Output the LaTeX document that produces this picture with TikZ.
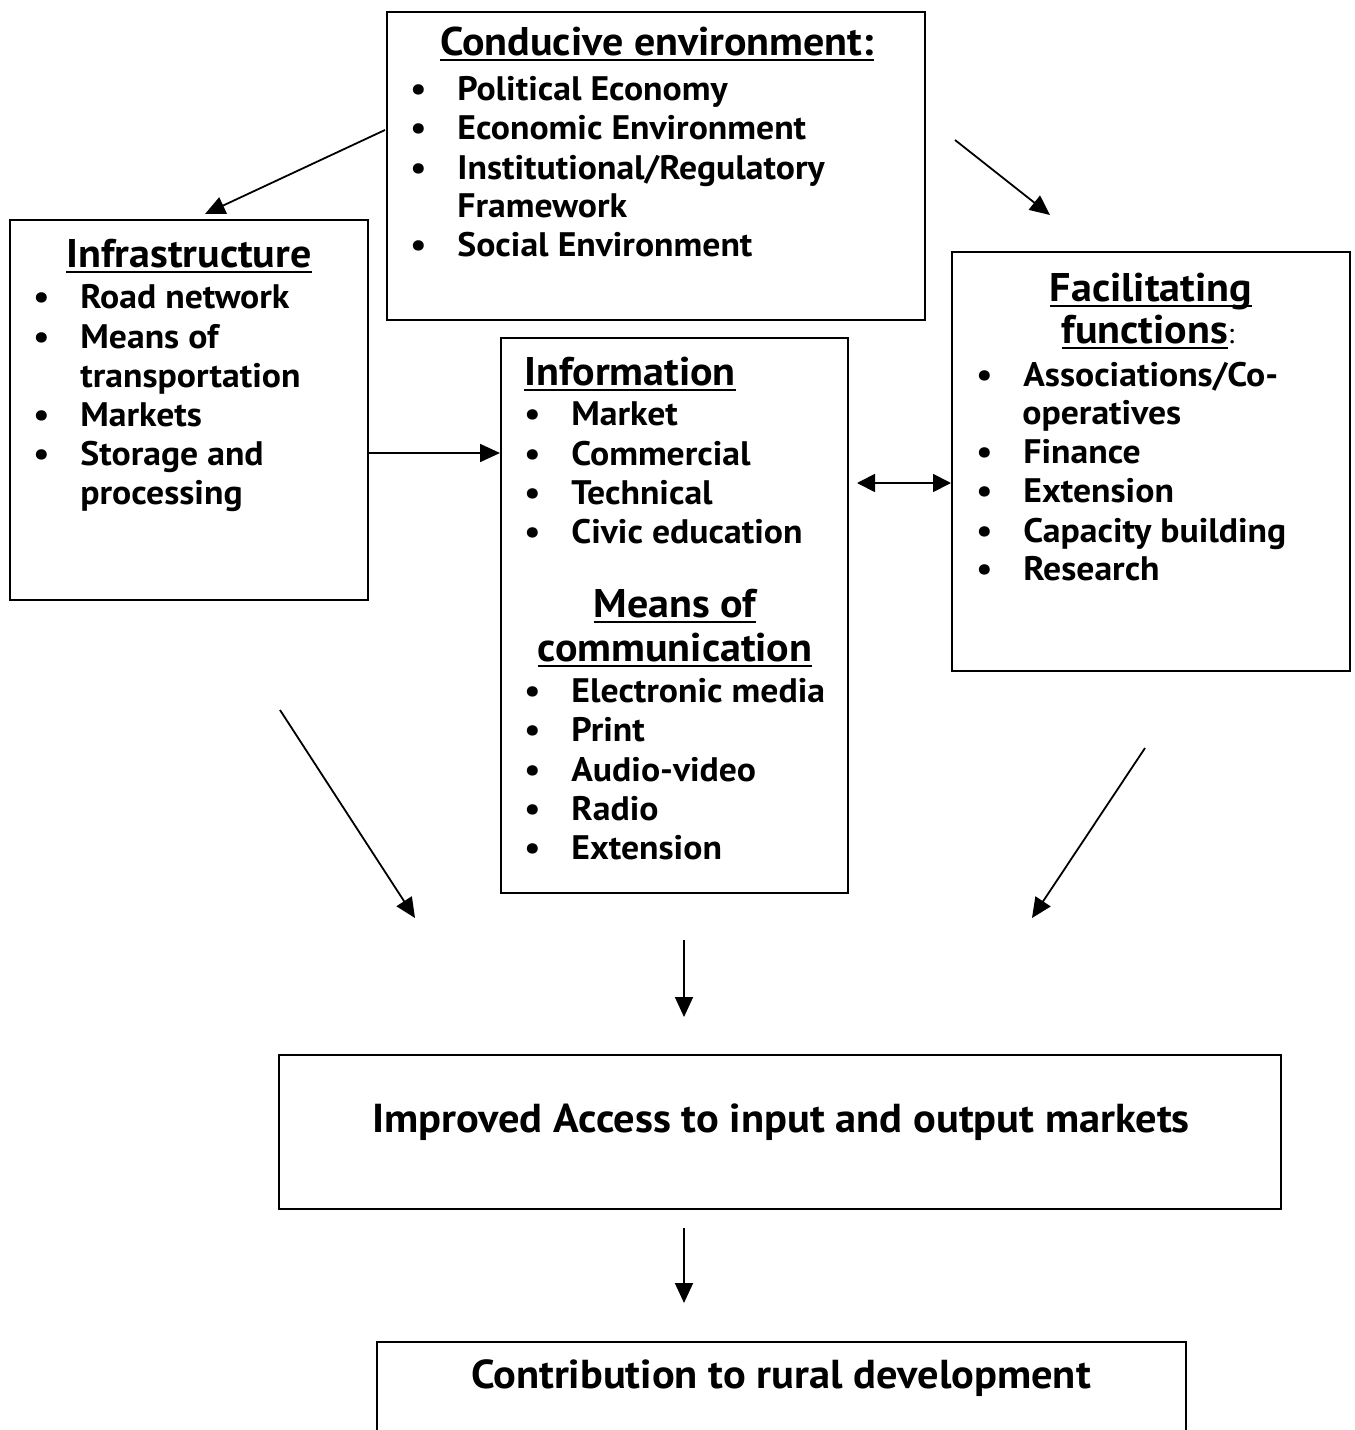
\documentclass[tikz,border=0pt]{standalone}
\usepackage{fontspec}
\setmainfont{PT Sans}[FakeStretch=1.05]
\usetikzlibrary{arrows.meta,fit}
\newcommand\myb{\makebox[23.5pt][l]{\textbullet}}
\newcommand\myul[1]{\setbox0\hbox{#1}\rlap{\rule[-3pt]{\wd0}{1.1pt}}\box0}
\begin{document}
\begin{tikzpicture}[x=0.5pt,y=-0.5pt,
 box/.style={draw, line width=1pt, inner sep=0pt},
 arr/.style={line width=0.9pt,-{Triangle[length=10pt,width=9pt]}},
 darr/.style={line width=0.9pt,{Triangle[length=9pt,width=9pt]}-{Triangle[length=9pt,width=9pt]}},
 body/.style={anchor=base west, inner sep=0pt, font=\fontsize{17}{20}\selectfont\bfseries},
 ttl/.style={anchor=base, inner sep=0pt, font=\fontsize{20}{24}\selectfont\bfseries},
 ttlw/.style={anchor=base west, inner sep=0pt, font=\fontsize{20}{24}\selectfont\bfseries},
 big/.style={anchor=base, inner sep=0pt, font=\fontsize{20.2}{24}\selectfont\bfseries}]
\useasboundingbox (0,0) rectangle (1355,1430);
\clip (0,0) rectangle (1355,1430);

% Conducive environment
\node[box, fit={(387,12) (925,320)}] (cond) {};
\node[ttl] (condT) at (657,55) {\myul{Conducive environment:}};
\node[body] (c1) at (410,100) {\myb Political Economy};
\node[body] (c2) at (410,139) {\myb Economic Environment};
\node[body] (c3) at (410,179) {\myb Institutional/Regulatory};
\node[body] (c3b) at (457,217) {Framework};
\node[body] (c4) at (410,256) {\myb Social Environment};

% Infrastructure
\node[box, fit={(10,220) (368,600)}] (infra) {};
\node[ttl] (infraT) at (189,267) {\myul{Infrastructure}};
\node[body] (i1) at (33,308) {\myb Road network};
\node[body] (i2) at (33,348) {\myb Means of};
\node[body] (i2b) at (80,387) {transportation};
\node[body] (i3) at (33,426) {\myb Markets};
\node[body] (i4) at (33,465) {\myb Storage and};
\node[body] (i4b) at (80,504) {processing};

% Information
\node[box, fit={(501,338) (848,893)}] (info) {};
\node[ttlw] (infoT) at (524,385) {\myul{Information}};
\node[body] (n1) at (524,425) {\myb Market};
\node[body] (n2) at (524,465) {\myb Commercial};
\node[body] (n3) at (524,504) {\myb Technical};
\node[body] (n4) at (524,543) {\myb Civic education};
\node[ttl] (mT1) at (675,617) {\myul{Means of}};
\node[ttl] (mT2) at (675,661) {\myul{communication}};
\node[body] (m1) at (524,702) {\myb Electronic media};
\node[body] (m2) at (524,741) {\myb Print};
\node[body] (m3) at (524,781) {\myb Audio-video};
\node[body] (m4) at (524,820) {\myb Radio};
\node[body] (m5) at (524,859) {\myb Extension};

% Facilitating functions
\node[box, fit={(952,252) (1350,671)}] (fac) {};
\node[ttl] (facT1) at (1151,301) {\myul{Facilitating}};
\node[ttl] (facT2) at (1148,343) {\myul{functions}{\mdseries\fontsize{14}{16}\selectfont:}};
\node[body] (f1) at (976,386) {\myb Associations/Co-};
\node[body] (f1b) at (1022,424) {operatives};
\node[body] (f2) at (976,463) {\myb Finance};
\node[body] (f3) at (976,502) {\myb Extension};
\node[body] (f4) at (976,542) {\myb Capacity building};
\node[body] (f5) at (976,580) {\myb Research};

% Outcomes
\node[box, fit={(279,1055) (1281,1209)}] (imp) {};
\node[big] (impT) at (781,1132) {Improved Access to input and output markets};
\node[box, fit={(377,1342) (1186,1470)}] (contr) {};
\node[big] (contrT) at (781,1388) {Contribution to rural development};

% Connectors
\coordinate (a1s) at (385,130);
\coordinate (a1e) at (205,214);
\coordinate (a2s) at (955,140);
\coordinate (a2e) at (1050,215);
\coordinate (ia) at (368,453);
\coordinate (db) at (857,483);
\coordinate (a5s) at (280,710);
\coordinate (a5e) at (415,918);
\coordinate (a6s) at (1145,748);
\coordinate (a6e) at (1032,918);
\coordinate (a7s) at (684,940);
\coordinate (a7e) at (684,1017);
\coordinate (a8s) at (684,1228);
\coordinate (a8e) at (684,1303);

\draw[arr] (a1s) -- (a1e);
\draw[arr] (a2s) -- (a2e);
\draw[arr] (ia) -- (ia -| info.west);
\draw[darr] (db) -- (db -| fac.west);
\draw[arr] (a5s) -- (a5e);
\draw[arr] (a6s) -- (a6e);
\draw[arr] (a7s) -- (a7e);
\draw[arr] (a8s) -- (a8e);
\end{tikzpicture}
\end{document}
